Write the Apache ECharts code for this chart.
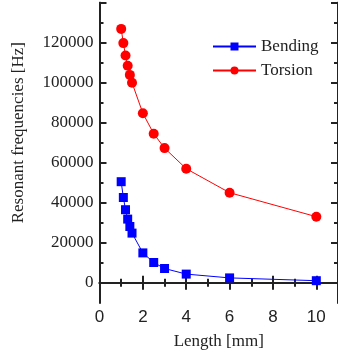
<!DOCTYPE html>
<html>
<head>
<meta charset="utf-8">
<script src="https://cdn.jsdelivr.net/npm/echarts@6/dist/echarts.min.js"></script>
<style>
  html, body { margin: 0; padding: 0; background: #fff; }
  #chart { width: 338px; height: 356px; }
</style>
</head>
<body>
<div id="chart"></div>
<script>
const lengths = [1.0, 1.1, 1.2, 1.3, 1.4, 1.5, 2, 2.5, 3, 4, 6, 10];
const bending = [50500, 42600, 36500, 31800, 28100, 24800, 14900, 10100, 7100, 4300, 2400, 1000];
const torsion = [126900, 119800, 113600, 108500, 103900, 100000, 84700, 74500, 67300, 57000, 45000, 33000];
const yMajor = [0, 20000, 40000, 60000, 80000, 100000, 120000, 140000];
const yMinor = [10000, 30000, 50000, 70000, 90000, 110000, 130000];

const serif = "Liberation Serif";
const chart = echarts.init(document.getElementById("chart"));

// frame axes: shared look, only the bottom/left ones carry labels
const axisLine = { show: true, lineStyle: { color: "#222", width: 2 } };
const xAx = (pos, labels) => ({
  type: "value", position: pos, min: 0, max: 11, interval: 2,
  axisLine: axisLine,
  axisTick: { inside: true, length: 7, lineStyle: { color: "#222", width: 2 } },
  minorTick: { show: true, splitNumber: 2, length: 4, lineStyle: { color: "#222", width: 2 } },
  axisLabel: { show: labels, margin: 6, color: "#222", fontFamily: "Liberation Sans", fontSize: 17, showMaxLabel: false },
  splitLine: { show: false },
  name: labels ? "Length [mm]" : "",
  nameLocation: "middle", nameGap: 30,
  nameTextStyle: { fontFamily: serif, fontSize: 17, color: "#222" },
});
const yAx = (pos, vals, len, labels) => ({
  type: "value", position: pos, min: -10000, max: 140000,
  axisLine: axisLine,
  axisTick: { inside: true, length: len, customValues: vals, lineStyle: { color: "#222", width: 2 } },
  axisLabel: labels
    ? { show: true, customValues: yMajor.slice(0, 7), margin: 6, color: "#222", fontFamily: serif, fontSize: 17,
        formatter: (v) => String(v) }
    : { show: false },
  splitLine: { show: false },
  name: labels ? "Resonant frequencies [Hz]" : "",
  nameLocation: "middle", nameGap: 72,
  nameTextStyle: { fontFamily: serif, fontSize: 17, color: "#222", padding: [0, 0, 0, 40] },
});

chart.setOption({
  animation: false,
  grid: { left: 99.5, right: -4.5, top: 2.7, bottom: 53.3, containLabel: false },
  legend: {
    left: 207, top: 33, orient: "vertical", itemWidth: 43, itemHeight: 10, itemGap: 7,
    textStyle: { fontFamily: serif, fontSize: 17, color: "#222" },
    data: ["Bending", "Torsion"],
  },
  xAxis: [xAx("bottom", true), xAx("top", false)],
  yAxis: [
    yAx("left", yMajor, 7, true),
    yAx("left", yMinor, 4, false),
    yAx("right", yMajor, 7, false),
    yAx("right", yMinor, 4, false),
  ],
  series: [
    {
      name: "Bending", type: "line", xAxisIndex: 0, yAxisIndex: 0,
      data: lengths.map((x, i) => [x, bending[i]]),
      symbol: "rect", symbolSize: 9, color: "#0000ff",
      lineStyle: { width: 1 },
    },
    {
      name: "Torsion", type: "line", xAxisIndex: 0, yAxisIndex: 0,
      data: lengths.map((x, i) => [x, torsion[i]]),
      symbol: "circle", symbolSize: 10, color: "#ff0000",
      lineStyle: { width: 1 },
    },
  ],
});
</script>
</body>
</html>
